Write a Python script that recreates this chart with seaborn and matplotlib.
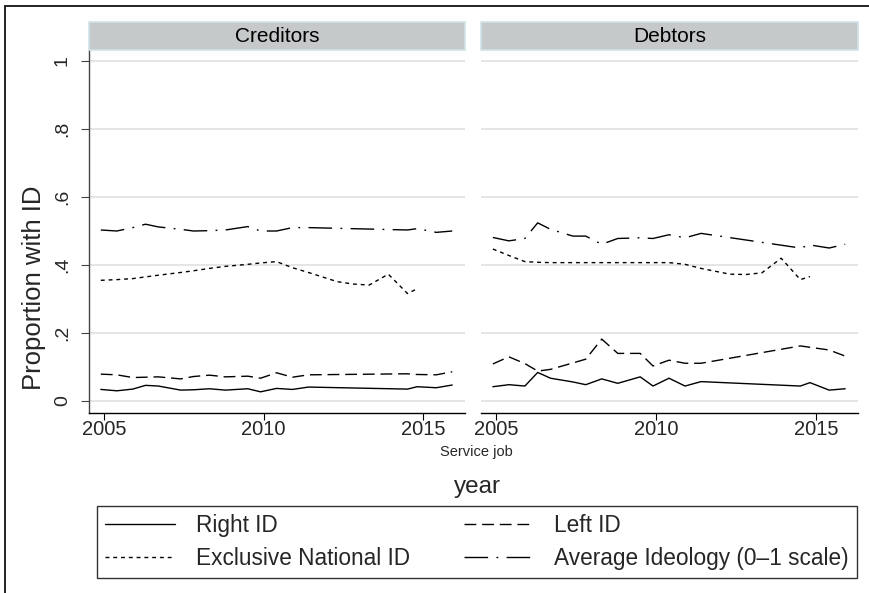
import matplotlib
matplotlib.use("Agg")
import matplotlib.pyplot as plt
import pandas as pd
import seaborn as sns
from matplotlib.lines import Line2D
from matplotlib.patches import Rectangle

# Survey waves (fractional year)
years = [2004.9, 2005.4, 2005.9, 2006.3, 2006.7, 2007.4, 2007.8, 2008.3, 2008.8,
         2009.5, 2009.9, 2010.4, 2010.9, 2011.4, 2014.5, 2014.8, 2015.4, 2015.9]
years_natid = [2004.9, 2005.4, 2005.9, 2006.3, 2006.7, 2007.4, 2007.8, 2008.3, 2008.8,
               2009.5, 2009.9, 2010.4, 2010.9, 2011.4, 2012.3, 2012.8, 2013.3, 2013.9,
               2014.5, 2014.8]

panels = ["Creditors", "Debtors"]
series_labels = ["Right ID", "Left ID", "Exclusive National ID",
                 "Average Ideology (0\u20131 scale)"]

cred_right = [0.034, 0.030, 0.035, 0.046, 0.044, 0.032, 0.033, 0.036, 0.032,
              0.036, 0.027, 0.037, 0.034, 0.041, 0.035, 0.042, 0.039, 0.047]
cred_left = [0.079, 0.077, 0.069, 0.070, 0.071, 0.065, 0.072, 0.076, 0.071,
             0.073, 0.067, 0.083, 0.070, 0.077, 0.080, 0.078, 0.077, 0.086]
cred_natid = [0.355, 0.357, 0.360, 0.365, 0.370, 0.378, 0.383, 0.390, 0.396,
              0.402, 0.406, 0.410, 0.392, 0.378, 0.351, 0.344, 0.341, 0.373,
              0.316, 0.330]
cred_ideol = [0.503, 0.500, 0.510, 0.520, 0.512, 0.505, 0.500, 0.501, 0.503,
              0.513, 0.500, 0.500, 0.510, 0.510, 0.503, 0.507, 0.496, 0.500]

debt_right = [0.042, 0.048, 0.044, 0.084, 0.067, 0.056, 0.048, 0.065, 0.052,
              0.071, 0.044, 0.067, 0.044, 0.057, 0.044, 0.054, 0.032, 0.036]
debt_left = [0.109, 0.130, 0.110, 0.088, 0.093, 0.112, 0.123, 0.182, 0.140,
             0.140, 0.103, 0.120, 0.111, 0.111, 0.162, 0.158, 0.150, 0.132]
debt_natid = [0.447, 0.428, 0.410, 0.408, 0.407, 0.407, 0.407, 0.407, 0.407,
              0.407, 0.407, 0.407, 0.402, 0.390, 0.373, 0.372, 0.377, 0.420,
              0.357, 0.366]
debt_ideol = [0.481, 0.471, 0.478, 0.524, 0.505, 0.485, 0.485, 0.461, 0.478,
              0.480, 0.478, 0.489, 0.480, 0.493, 0.450, 0.459, 0.450, 0.461]

ytick_vals = [0, 0.2, 0.4, 0.6, 0.8, 1]
ytick_labels = ["0", ".2", ".4", ".6", ".8", "1"]
xtick_vals = [2005, 2010, 2015]
xtick_labels = ["2005", "2010", "2015"]

# Long-format table
records = []
panel_data = {
    "Creditors": [cred_right, cred_left, cred_natid, cred_ideol],
    "Debtors": [debt_right, debt_left, debt_natid, debt_ideol],
}
for panel, values in panel_data.items():
    for label, vals in zip(series_labels, values):
        xs = years_natid if label == "Exclusive National ID" else years
        for x, v in zip(xs, vals):
            records.append({"panel": panel, "series": label, "year": x, "value": v})
df = pd.DataFrame(records)

sns.set_theme(style="white")
plt.rcParams["font.family"] = ["Liberation Sans", "DejaVu Sans"]

line_styles = {
    "Right ID": "-",
    "Left ID": (0, (8.5, 4.2)),
    "Exclusive National ID": (0, (2.8, 2.8)),
    "Average Ideology (0\u20131 scale)": (0, (17, 6, 1.3, 6)),
}
LW = 1.0

W, H = 870, 593
fig = plt.figure(figsize=(W / 100, H / 100), dpi=100)
fig.patch.set_facecolor("white")

ax_boxes = {
    "Creditors": (89, 465),
    "Debtors": (481, 858),
}
top_px, bot_px = 50, 413
strip_top = 22

for i, panel in enumerate(panels):
    x0, x1 = ax_boxes[panel]
    ax = fig.add_axes([x0 / W, 1 - bot_px / H, (x1 - x0) / W, (bot_px - top_px) / H])
    sub = df[df["panel"] == panel]
    for label in series_labels:
        s = sub[sub["series"] == label]
        sns.lineplot(data=s, x="year", y="value", ax=ax, color="black",
                     linewidth=LW, linestyle=line_styles[label],
                     estimator=None, legend=False)
    ax.set_xlim(2004.53, 2016.3)
    ax.set_ylim(-0.0353, 1.0324)
    ax.set_yticks(ytick_vals)
    ax.set_xticks(xtick_vals)
    ax.set_xticklabels(xtick_labels, fontsize=14.5)
    ax.set_xlabel("")
    ax.set_ylabel("")
    ax.yaxis.grid(True, color="#dedede", linewidth=1.1)
    ax.xaxis.grid(False)
    ax.set_axisbelow(True)
    for side in ["top", "right"]:
        ax.spines[side].set_visible(False)
    ax.spines["bottom"].set_color("black")
    ax.spines["bottom"].set_linewidth(1.0)
    ax.tick_params(axis="x", direction="out", length=5, width=0.8,
                   color="black", pad=0, bottom=True)
    if i == 0:
        ax.spines["left"].set_color("#444444")
        ax.spines["left"].set_linewidth(1.0)
        ax.set_yticklabels(ytick_labels, rotation=90, va="center", fontsize=14)
        ax.tick_params(axis="y", direction="out", length=6, width=0.8,
                       color="#444444", pad=7, left=True)
    else:
        ax.spines["left"].set_visible(False)
        ax.tick_params(axis="y", left=False, labelleft=False)

    # panel strip
    sax = fig.add_axes([x0 / W, 1 - top_px / H, (x1 - x0) / W, (top_px - strip_top) / H])
    sax.set_xlim(0, 1)
    sax.set_ylim(0, 1)
    sax.axis("off")
    sax.add_patch(Rectangle((0, 0), 1, 1, facecolor="#c6c9ca", edgecolor="#cfe3e9",
                            linewidth=1.2, transform=sax.transAxes, clip_on=False))
    sax.text(0.5, 0.5, panel, ha="center", va="center", fontsize=15, color="black")

fig.text(34 / W, 1 - 288 / H, "Proportion with ID", rotation=90,
         ha="center", va="center", fontsize=18.5)
fig.text(476 / W, 1 - 452 / H, "Service job", ha="center", va="center", fontsize=10.5)
fig.text(477 / W, 1 - 487 / H, "year", ha="center", va="center", fontsize=17.5)

# legend: row-wise order in a 2-column layout
order = ["Right ID", "Exclusive National ID", "Left ID",
         "Average Ideology (0\u20131 scale)"]
handles = [Line2D([0], [0], color="black", linewidth=LW, linestyle=line_styles[k])
           for k in order]
leg = fig.legend(handles, order, ncol=2, loc="lower left",
                 bbox_to_anchor=(97 / W, 1 - 578 / H, 760 / W, 73 / H),
                 mode="expand", borderaxespad=0, frameon=True, fancybox=False,
                 edgecolor="black", fontsize=16.3, handlelength=3.1,
                 handletextpad=0.9, labelspacing=0.42, borderpad=0.36)
leg.get_frame().set_linewidth(1.0)

# outer frame (top and left edges)
fig.add_artist(Line2D([5 / W, 1], [1 - 6 / H, 1 - 6 / H], transform=fig.transFigure,
                      color="#222222", linewidth=1.4))
fig.add_artist(Line2D([5 / W, 5 / W], [0, 1 - 6 / H], transform=fig.transFigure,
                      color="#222222", linewidth=1.4))

fig.savefig("out.png", dpi=100)
